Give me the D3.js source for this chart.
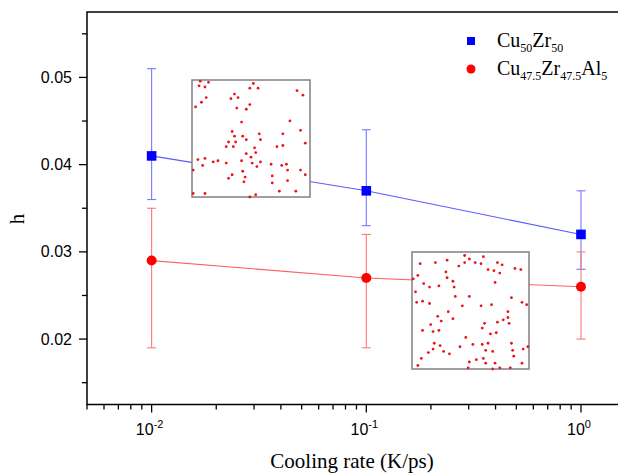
<!DOCTYPE html>
<html>
<head>
<meta charset="utf-8">
<script src="https://cdn.jsdelivr.net/npm/d3@7"></script>
<style>
  body { margin: 0; background: #fff; }
  svg { display: block; overflow: hidden; }
</style>
</head>
<body>
<svg id="chart" width="618" height="473"></svg>
<script>
// cooling rates (K/ps)
var rates = [0.01, 0.1, 1];

// Cu50Zr50
var cuzrH = [0.041, 0.037, 0.032];
var cuzrLo = [0.036, 0.033, 0.028];
var cuzrHi = [0.051, 0.044, 0.037];

// Cu47.5Zr47.5Al5
var cuzralH = [0.029, 0.027, 0.026];
var cuzralLo = [0.019, 0.019, 0.020];
var cuzralHi = [0.035, 0.032, 0.030];

var yTicks = [0.02, 0.03, 0.04, 0.05];
var yMinor = [0.015, 0.025, 0.035, 0.045, 0.055];
var xTicks = [0.01, 0.1, 1];
var xTickLabels = ["-2", "-1", "0"];

// particle snapshots shown in the two insets (percent of inset box)
var dotsA = [
  [7,1],[14,2],[6,5],[11,6],[52,3],[49,7],[56,7],[89,9],[94,13],[36,12],
  [33,16],[39,15],[12,15],[8,19],[3,23],[49,21],[38,24],[46,25],[83,35],[42,36],
  [92,43],[34,44],[57,46],[77,46],[36,48],[43,48],[58,51],[46,51],[31,53],[37,53],
  [96,54],[29,57],[35,57],[53,58],[77,56],[72,57],[46,63],[54,62],[50,66],[5,68],
  [11,67],[18,70],[22,69],[29,71],[42,69],[58,70],[9,73],[51,71],[55,74],[67,72],
  [80,72],[76,73],[1,77],[43,78],[81,77],[92,77],[34,81],[45,83],[96,81],[68,82],
  [31,84],[44,87],[81,86],[68,88],[1,97],[11,97],[49,100],[54,98],[74,95],[88,95]
];
var dotsB = [
  [45,3],[61,4],[49,6],[30,7],[20,9],[7,10],[40,12],[45,9],[54,9],[59,10],
  [73,9],[77,11],[88,14],[93,15],[65,15],[70,16],[75,18],[29,17],[5,20],[1,23],
  [30,22],[35,25],[71,26],[10,27],[15,30],[23,29],[36,30],[3,34],[37,38],[49,38],
  [85,39],[9,42],[4,43],[15,44],[43,46],[59,46],[68,45],[94,43],[98,45],[31,51],
  [82,51],[22,55],[35,57],[25,59],[82,56],[78,58],[73,60],[83,61],[62,61],[16,62],
  [60,65],[9,67],[18,68],[23,67],[72,69],[67,70],[46,73],[19,78],[24,80],[52,79],
  [60,79],[65,78],[85,78],[86,84],[99,81],[95,83],[41,81],[18,83],[14,86],[27,85],
  [32,87],[63,84],[69,85],[87,89],[8,91],[55,92],[49,94],[61,91],[63,95],[71,95],
  [94,95],[5,97],[48,99],[69,100],[75,99],[84,99]
];

var svg = d3.select("#chart");

var plotLeft = 87, plotTop = 12, plotBottom = 404.5, plotRight = 645.6;

var x = d3.scaleLog()
  .domain([0.005, 2])
  .range([plotLeft, plotRight]);

var y = d3.scaleLinear()
  .domain([0.0125, 0.0575])
  .range([plotBottom, plotTop]);

var serif = "'Liberation Serif', 'Times New Roman', serif";
var sans = "'Liberation Sans', Arial, sans-serif";

// x ticks (log minor ticks)
var xMinor = [];
[0.001, 0.01, 0.1, 1].forEach(function(d) {
  for (var k = 2; k <= 9; k++) {
    var v = d * k;
    if (v >= 0.005 && v <= 2) xMinor.push(v);
  }
});

svg.selectAll(".xminor")
  .data(xMinor)
  .enter().append("line")
  .attr("x1", x).attr("x2", x)
  .attr("y1", plotBottom).attr("y2", plotBottom + 5)
  .attr("stroke", "#000").attr("stroke-width", 1.3);

svg.selectAll(".xmajor")
  .data(xTicks)
  .enter().append("line")
  .attr("x1", x).attr("x2", x)
  .attr("y1", plotBottom).attr("y2", plotBottom + 8)
  .attr("stroke", "#000").attr("stroke-width", 1.3);

var xl = svg.selectAll(".xlab")
  .data(xTicks)
  .enter().append("text")
  .attr("x", function(d) { return x(d) - 2; })
  .attr("y", 435)
  .attr("text-anchor", "middle")
  .attr("font-family", sans)
  .attr("font-size", 16);
xl.append("tspan").text("10");
xl.append("tspan")
  .attr("dy", -7)
  .attr("font-size", 11)
  .text(function(d, i) { return xTickLabels[i]; });

// y ticks
svg.selectAll(".yminor")
  .data(yMinor)
  .enter().append("line")
  .attr("x1", plotLeft - 5).attr("x2", plotLeft)
  .attr("y1", y).attr("y2", y)
  .attr("stroke", "#000").attr("stroke-width", 1.3);

svg.selectAll(".ymajor")
  .data(yTicks)
  .enter().append("line")
  .attr("x1", plotLeft - 8).attr("x2", plotLeft)
  .attr("y1", y).attr("y2", y)
  .attr("stroke", "#000").attr("stroke-width", 1.3);

svg.selectAll(".ylab")
  .data(yTicks)
  .enter().append("text")
  .attr("x", plotLeft - 15)
  .attr("y", function(d) { return y(d) + 5.5; })
  .attr("text-anchor", "end")
  .attr("font-family", sans)
  .attr("font-size", 16)
  .text(function(d) { return d3.format(".2f")(d); });

// frame
svg.append("path")
  .attr("d", "M" + plotRight + "," + plotTop + "H" + plotLeft + "V" + plotBottom + "H" + plotRight)
  .attr("fill", "none")
  .attr("stroke", "#000")
  .attr("stroke-width", 1.5);

// axis titles
svg.append("text")
  .attr("x", 352)
  .attr("y", 468)
  .attr("text-anchor", "middle")
  .attr("font-family", serif)
  .attr("font-size", 21)
  .text("Cooling rate (K/ps)");

svg.append("text")
  .attr("transform", "translate(24,219) rotate(-90)")
  .attr("text-anchor", "middle")
  .attr("font-family", serif)
  .attr("font-size", 21)
  .text("h");

// connecting lines
var line = d3.line()
  .x(function(d) { return x(d[0]); })
  .y(function(d) { return y(d[1]); });

svg.append("path")
  .attr("d", line(d3.zip(rates, cuzrH)))
  .attr("fill", "none")
  .attr("stroke", "#5a5aff")
  .attr("stroke-width", 1.1);

svg.append("path")
  .attr("d", line(d3.zip(rates, cuzralH)))
  .attr("fill", "none")
  .attr("stroke", "#ff6060")
  .attr("stroke-width", 1.1);

// insets
function drawInset(x0, y0, w, h, dots) {
  var g = svg.append("g");
  var sx = d3.scaleLinear().domain([0, 100]).range([x0, x0 + w]);
  var sy = d3.scaleLinear().domain([0, 100]).range([y0, y0 + h]);
  g.append("rect")
    .attr("x", x0).attr("y", y0)
    .attr("width", w).attr("height", h)
    .attr("fill", "#fff")
    .attr("stroke", "#808080")
    .attr("stroke-width", 1.5);
  g.selectAll("circle")
    .data(dots)
    .enter().append("circle")
    .attr("cx", function(d) { return sx(d[0]); })
    .attr("cy", function(d) { return sy(d[1]); })
    .attr("r", 1.4)
    .attr("fill", "#e8141a");
}
drawInset(192, 80, 118, 117, dotsA);
drawInset(412, 252, 117, 117, dotsB);

// error bars
function errorBars(lo, hi, color) {
  var g = svg.append("g")
    .attr("stroke", color)
    .attr("stroke-width", 1.1);
  g.selectAll(".v")
    .data(rates)
    .enter().append("line")
    .attr("x1", x).attr("x2", x)
    .attr("y1", function(d, i) { return y(lo[i]); })
    .attr("y2", function(d, i) { return y(hi[i]); });
  g.selectAll(".lo")
    .data(rates)
    .enter().append("line")
    .attr("x1", function(d) { return x(d) - 4.5; })
    .attr("x2", function(d) { return x(d) + 4.5; })
    .attr("y1", function(d, i) { return y(lo[i]); })
    .attr("y2", function(d, i) { return y(lo[i]); });
  g.selectAll(".hi")
    .data(rates)
    .enter().append("line")
    .attr("x1", function(d) { return x(d) - 4.5; })
    .attr("x2", function(d) { return x(d) + 4.5; })
    .attr("y1", function(d, i) { return y(hi[i]); })
    .attr("y2", function(d, i) { return y(hi[i]); });
}
errorBars(cuzrLo, cuzrHi, "#7777ff");
errorBars(cuzralLo, cuzralHi, "#ff7777");

// markers
svg.selectAll(".sq")
  .data(rates)
  .enter().append("rect")
  .attr("x", function(d) { return x(d) - 4.8; })
  .attr("y", function(d, i) { return y(cuzrH[i]) - 4.8; })
  .attr("width", 9.6).attr("height", 9.6)
  .attr("fill", "#0000ff");

svg.selectAll(".dot")
  .data(rates)
  .enter().append("circle")
  .attr("cx", x)
  .attr("cy", function(d, i) { return y(cuzralH[i]); })
  .attr("r", 5)
  .attr("fill", "#ff0000");

// legend
var legend = svg.append("g").attr("font-family", serif);

legend.append("rect")
  .attr("x", 467).attr("y", 37)
  .attr("width", 8).attr("height", 8)
  .attr("fill", "#0000ff");
legend.append("circle")
  .attr("cx", 471).attr("cy", 69)
  .attr("r", 4.5)
  .attr("fill", "#ff0000");

// element symbol, subscript pairs
function formula(parts, yy) {
  var t = legend.append("text")
    .attr("x", 497).attr("y", yy)
    .attr("font-size", 20);
  parts.forEach(function(p, i) {
    t.append("tspan").attr("dy", i ? -5 : 0).text(p[0]);
    t.append("tspan").attr("font-size", 12).attr("dy", 5).text(p[1]);
  });
}
formula([["Cu", "50"], ["Zr", "50"]], 47);
formula([["Cu", "47.5"], ["Zr", "47.5"], ["Al", "5"]], 75);
</script>
</body>
</html>
